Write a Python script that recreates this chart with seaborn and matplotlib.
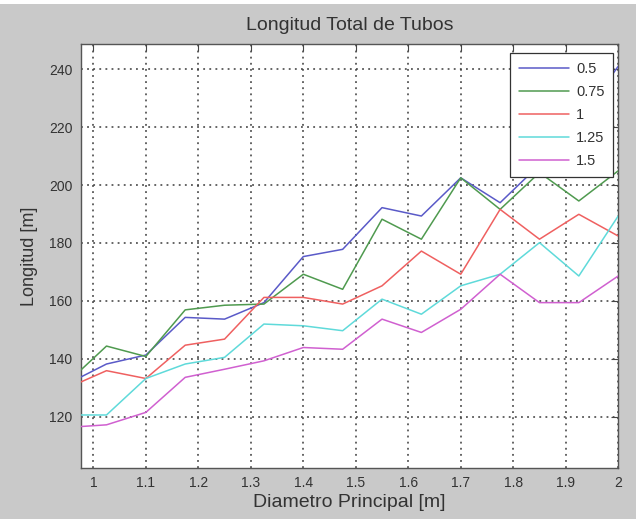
import numpy as np
import pandas as pd
import matplotlib
matplotlib.use("Agg")
import matplotlib.pyplot as plt
import seaborn as sns

# Data
diametro = [0.95, 1.025, 1.1, 1.175, 1.25, 1.325, 1.4, 1.475, 1.55, 1.625, 1.7, 1.775, 1.85, 1.925, 2.0]
serie_labels = ["0.5", "0.75", "1", "1.25", "1.5"]
long_05 = [131.3, 138.2, 141.3, 154.3, 153.7, 159.4, 175.3, 177.8, 192.2, 189.3, 202.5, 193.9, 207.0, 222.0, 241.0]
long_075 = [131.7, 144.4, 140.8, 156.9, 158.5, 158.9, 169.2, 164.0, 188.2, 181.3, 202.5, 191.6, 204.3, 194.5, 204.9]
long_1 = [129.9, 135.9, 133.2, 144.7, 146.8, 161.2, 161.2, 158.9, 165.2, 177.2, 169.2, 191.6, 181.3, 189.9, 182.4]
long_125 = [120.6, 120.6, 133.2, 138.2, 140.5, 152.0, 151.4, 149.7, 160.6, 155.4, 165.2, 169.2, 180.1, 168.6, 189.3]
long_15 = [116.3, 117.2, 121.5, 133.6, 136.4, 139.3, 143.9, 143.3, 153.7, 149.1, 157.1, 169.2, 159.4, 159.4, 168.6]
xticks = [1, 1.1, 1.2, 1.3, 1.4, 1.5, 1.6, 1.7, 1.8, 1.9, 2]
xtick_labels = ["1", "1.1", "1.2", "1.3", "1.4", "1.5", "1.6", "1.7", "1.8", "1.9", "2"]
yticks = [120, 140, 160, 180, 200, 220, 240]

series = [long_05, long_075, long_1, long_125, long_15]
df = pd.concat([
    pd.DataFrame({"Diametro": diametro, "Longitud": vals, "serie": lab})
    for lab, vals in zip(serie_labels, series)
], ignore_index=True)

colors = ["#5a5ac8", "#4f9a4f", "#ef6060", "#5fdada", "#d060d0"]
palette = dict(zip(serie_labels, colors))

sns.set_style("white")
plt.rcParams["font.family"] = ["Liberation Sans", "DejaVu Sans"]

fig = plt.figure(figsize=(6.36, 5.19), dpi=100, facecolor="#c9c9c9")
# white strip at very top (cropped page above the figure)
fig.patches.append(plt.Rectangle((0, 1 - 4 / 519), 1, 4 / 519, transform=fig.transFigure,
                                 facecolor="white", edgecolor="none"))
ax = fig.add_axes([0.127, 0.0983, 0.845, 0.8169])
ax.set_facecolor("white")

sns.lineplot(data=df, x="Diametro", y="Longitud", hue="serie", hue_order=serie_labels,
             palette=palette, linewidth=1.1, ax=ax, legend=False, zorder=3)

ax.set_xlim(0.976, 2.0)
ax.set_ylim(102.3, 248.7)
ax.set_xticks(xticks)
ax.set_xticklabels(xtick_labels)
ax.set_yticks(yticks)
ax.grid(True, linestyle=(0, (1.2, 2.8)), color="#3a3a3a", linewidth=1.1)
ax.tick_params(direction="in", length=5, width=0.8, color="#444444", labelsize=10,
               labelcolor="#333333", top=True, right=True, pad=6)
for s in ax.spines.values():
    s.set_color("#555555")
    s.set_linewidth(1.0)

ax.set_title("Longitud Total de Tubos", fontsize=14, color="#333333", pad=10)
ax.set_xlabel("Diametro Principal [m]", fontsize=14, color="#333333", labelpad=3)
ax.set_ylabel("Longitud [m]", fontsize=13, color="#333333", labelpad=8)

handles = [plt.Line2D([], [], color=c, linewidth=1.1) for c in colors]
leg = ax.legend(handles, serie_labels, loc="upper right", bbox_to_anchor=(0.991, 0.979),
                borderaxespad=0, fontsize=10.5, handlelength=3.4, labelspacing=0.62,
                frameon=True, fancybox=False, framealpha=1, edgecolor="#333333",
                borderpad=0.6, handletextpad=0.5)
leg.get_frame().set_linewidth(0.9)
for t in leg.get_texts():
    t.set_color("#333333")
leg.set_zorder(5)

fig.savefig("out.png", dpi=100, facecolor=fig.get_facecolor())
